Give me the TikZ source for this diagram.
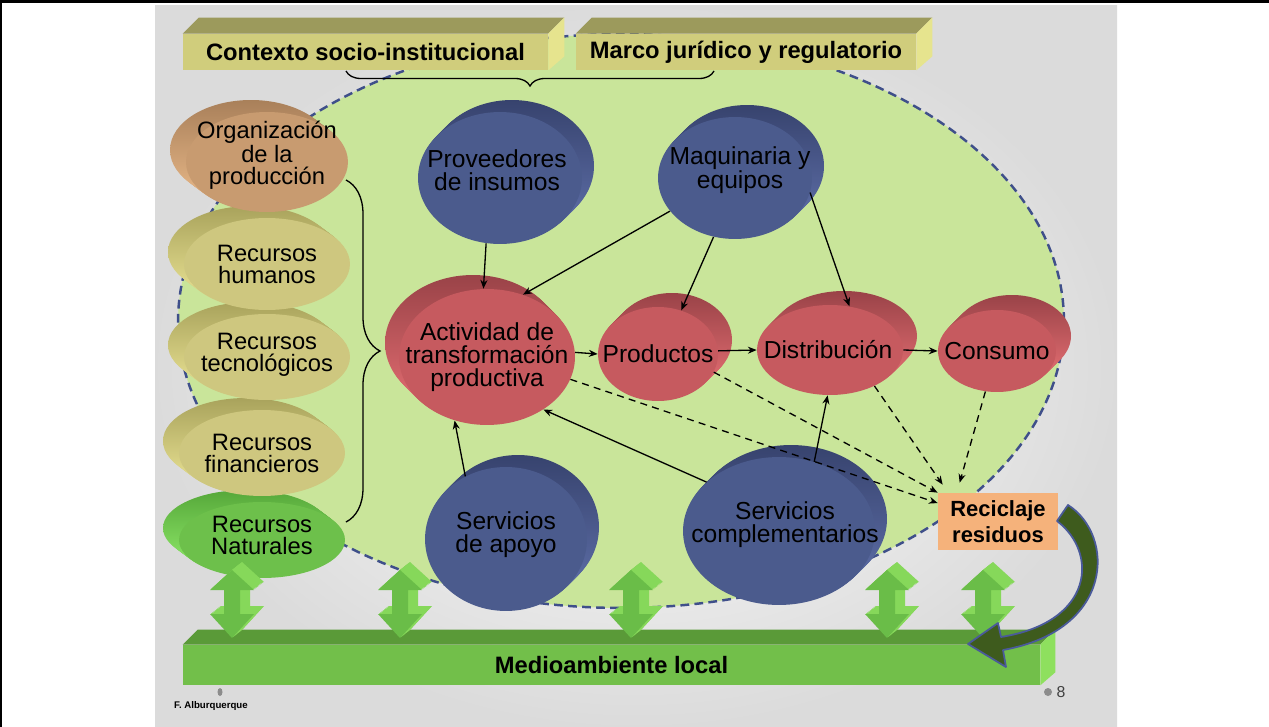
\documentclass[tikz,border=0pt]{standalone}
\usepackage{fontspec}
\setmainfont{Liberation Sans}
\usetikzlibrary{shapes.geometric,arrows.meta,decorations.pathreplacing}

\definecolor{dashblue}{HTML}{3F4F8A}
\definecolor{biggreen}{HTML}{C9E59A}
\definecolor{redT}{HTML}{9A4348}
\definecolor{redB}{HTML}{E46E72}
\definecolor{redF}{HTML}{C65A5F}
\definecolor{blueT}{HTML}{37436E}
\definecolor{blueB}{HTML}{5F70AA}
\definecolor{blueF}{HTML}{4B5B8D}
\definecolor{tanT}{HTML}{A9805A}
\definecolor{tanB}{HTML}{E8B888}
\definecolor{tanF}{HTML}{C89B70}
\definecolor{khT}{HTML}{A9A35C}
\definecolor{khB}{HTML}{E9E293}
\definecolor{khF}{HTML}{CEC77F}
\definecolor{grT}{HTML}{56A83A}
\definecolor{grB}{HTML}{8EE868}
\definecolor{grF}{HTML}{6DC04B}
\definecolor{boxF}{HTML}{D0CD7C}
\definecolor{boxTop}{HTML}{9C9A5C}
\definecolor{boxSide}{HTML}{E6E48E}
\definecolor{recC}{HTML}{F5B27B}
\definecolor{barF}{HTML}{72BF4A}
\definecolor{barTop}{HTML}{5A9A38}
\definecolor{barSide}{HTML}{8EE05E}
\definecolor{arrF}{HTML}{6ABD48}
\definecolor{arrS}{HTML}{86D85A}
\definecolor{curveC}{HTML}{3E5B1D}
\definecolor{curveL}{HTML}{4A5A9A}

\tikzset{
  dtext/.style={align=center, inner sep=0pt, text=black, font=\fontsize{14}{13}\selectfont},
  ltext/.style={align=center, inner sep=0pt, text=black, font=\fontsize{13.5}{12.5}\selectfont},
  tbox/.style={rectangle, fill=boxF, inner sep=0pt, font=\bfseries\fontsize{13.5}{15}\selectfont},
  arr/.style={-{Stealth[length=5pt,width=4pt]}, line width=0.75pt, black},
  darr/.style={arr, dash pattern=on 4pt off 3pt},
  bracestyle/.style={line width=0.75pt, black},
}

% #1 name, #2 cx, #3 cy, #4 rx, #5 ry, #6 dx, #7 dy, #8 colour scheme, #9 label
\newcommand\disc[9]{%
  \foreach \k in {1,...,10}{%
    \shade[top color=#8T, bottom color=#8B] (#2+\k*#6/10,#3+\k*#7/10) ellipse [x radius=#4*0.02cm, y radius=#5*0.02cm];}%
  \node[ellipse, inner sep=0pt, fill=#8F, minimum width=#4*0.04cm, minimum height=#5*0.04cm, #9] (#1) at (#2,#3) {};%
}

% double vertical arrow, front centre x = #1
\newcommand\updownpath[1]{(#1,570) -- (#1+22,590) -- (#1+8,590) -- (#1+8,614) -- (#1+22,614) -- (#1,638) -- (#1-22,614) -- (#1-8,614) -- (#1-8,590) -- (#1-22,590) -- cycle}
\newcommand\updown[1]{%
  \foreach \s in {1,...,10}{\fill[arrS, shift={(\s,-0.8*\s)}] \updownpath{#1};}%
  \fill[arrF] \updownpath{#1};%
}

\begin{document}
\begin{tikzpicture}[x=0.02cm, y=-0.02cm]
\useasboundingbox (0,0) rectangle (1269,727);
\fill[white] (0,0) rectangle (1269,727);
\shade[inner color=white, outer color=black!14] (155,5) rectangle (1117,727);
\fill[black] (0,0) rectangle (1269,3);
\fill[black] (0,0) rectangle (2.5,727);

% big dashed ellipse
\filldraw[fill=biggreen, draw=dashblue, line width=1.4pt, dash pattern=on 5pt off 3pt] (621,321) ellipse [x radius=8.86cm, y radius=5.74cm];

% top boxes
\node[tbox, minimum width=7.3cm, minimum height=0.72cm] (ctx) at (365.5,52) {Contexto socio-institucional};
\fill[boxTop] (ctx.north west) -- ++(16,-16) -- ([shift={(16,-16)}]ctx.north east) -- (ctx.north east) -- cycle;
\fill[boxSide] (ctx.north east) -- ++(16,-16) -- ([shift={(16,-14)}]ctx.south east) -- (ctx.south east) -- cycle;
\node[tbox, minimum width=6.8cm, minimum height=0.72cm] (marco) at (746,52) {Marco jurídico y regulatorio};
\fill[boxTop] (marco.north west) -- ++(16,-16) -- ([shift={(16,-16)}]marco.north east) -- (marco.north east) -- cycle;
\fill[boxSide] (marco.north east) -- ++(16,-16) -- ([shift={(16,-14)}]marco.south east) -- (marco.south east) -- cycle;
\coordinate (brA) at (714,71);
\coordinate (brB) at (346,71);
\draw[bracestyle, decorate, decoration={brace, amplitude=0.3cm}] (brA) -- (brB);

% left discs (bottom-up)
\disc{nat}{262}{540}{83}{38}{-16}{-12}{gr}{label={[ltext,yshift=0.1cm]center:Recursos\\Naturales}}
\disc{fin}{262}{453}{83}{43}{-16}{-12}{kh}{label={[ltext]center:Recursos\\financieros}}
\disc{tec}{267}{357}{83}{43}{-16}{-12}{kh}{label={[ltext,yshift=0.04cm]center:Recursos\\tecnológicos}}
\disc{hum}{267}{264}{83}{46}{-16}{-12}{kh}{label={[ltext]center:Recursos\\humanos}}
\disc{org}{267}{162}{81}{50}{-16}{-12}{tan}{label={[ltext,yshift=0.14cm]center:Organización\\de la\\producción}}
\coordinate (rbA) at (346,180);
\coordinate (rbB) at (346,522);
\draw[bracestyle, decorate, decoration={brace, amplitude=0.68cm}] (rbA) -- (rbB);

% blue discs
\disc{prov}{500}{178}{82}{66}{12}{-12}{blue}{label={[dtext,xshift=-0.06cm,yshift=0.16cm]center:Proveedores\\de insumos}}
\disc{maq}{735}{178}{77}{61}{12}{-12}{blue}{label={[dtext,xshift=0.1cm,yshift=0.16cm]center:Maquinaria y\\equipos}}
\disc{sapo}{506}{539}{81}{72}{12}{-12}{blue}{label={[dtext,yshift=0.08cm]center:Servicios\\de apoyo}}
\disc{scomp}{779}{531}{96}{74}{12}{-12}{blue}{label={[dtext,xshift=0.12cm,yshift=0.12cm]center:Servicios\\complementarios}}

% red discs
\disc{act}{487}{357}{88}{68}{-14}{-14}{red}{label={[dtext]center:Actividad de\\transformación\\productiva}}
\disc{prod}{658}{354}{60}{47}{14}{-14}{red}{label={[dtext]center:Productos}}
\disc{dist}{830}{350}{73}{45}{14}{-14}{red}{label={[dtext,xshift=-0.04cm]center:Distribución}}
\disc{cons}{997}{351}{59}{41}{15}{-15}{red}{label={[dtext]center:Consumo}}

% recycling box
\node[fill=recC, minimum width=2.4cm, minimum height=1.14cm, inner sep=0pt, align=center, font=\bfseries\fontsize{12.5}{15}\selectfont] (rec) at (998,521.5) {Reciclaje\\residuos};

% solid connectors
\draw[arr] (prov.258) -- (act.93);
\draw[arr] (maq.207) -- (act.60);
\draw[arr] (maq.250) -- (prod.62);
\draw[arr] (maq.349) -- (dist.66);
\draw[arr] (act.3) -- (prod.west);
\draw[arr] (prod.3) -- (dist.west);
\draw[arr] (dist.east) -- (cons.west);
\draw[arr] (sapo.123) -- (act.243);
\draw[arr] (scomp.146) -- (act.317);
\draw[arr] (scomp.63) -- (dist.267);

% dashed connectors
\draw[darr] (act.345) -- (rec.163);
\draw[darr] (prod.342) -- (rec.north west);
\draw[darr] (dist.321) -- ([shift={(5,-8)}]rec.north west);
\draw[darr] (cons.254) -- ([shift={(22,-10)}]rec.north west);

% environment bar
\node[fill=barF, minimum width=17.14cm, minimum height=0.8cm, inner sep=0pt, font=\bfseries\fontsize{13.5}{15}\selectfont] (env) at (611.5,665) {Medioambiente local};
\fill[barTop] (env.north west) -- ++(15,-15) -- ([shift={(15,-15)}]env.north east) -- (env.north east) -- cycle;
\fill[barSide] (env.north east) -- ++(15,-15) -- ([shift={(15,-13)}]env.south east) -- (env.south east) -- cycle;

% double arrows
\updown{232}
\updown{400}
\updown{631}
\updown{887}
\updown{983}

% curved arrow from recycling back to environment
\filldraw[fill=curveC, draw=curveL, line width=1pt, line join=round]
  (1068,505) .. controls (1115,535) and (1115,630) .. (1003,650)
  -- (1006,667) -- (968,644) -- (998,623) -- (1001,637)
  .. controls (1095,622) and (1098,552) .. (1057,521) -- cycle;

% footer
\fill[black!45] (220,692) ellipse [x radius=0.05cm, y radius=0.08cm];
\fill[black!45] (1048,692) ellipse [x radius=0.08cm, y radius=0.08cm];
\node[font=\bfseries\fontsize{5.5}{6}\selectfont, inner sep=0pt] (auth) at (211,706) {F. Alburquerque};
\node[font=\fontsize{9}{10}\selectfont, text=black!75, inner sep=0pt] (pg) at (1061,692) {8};
\end{tikzpicture}
\end{document}
